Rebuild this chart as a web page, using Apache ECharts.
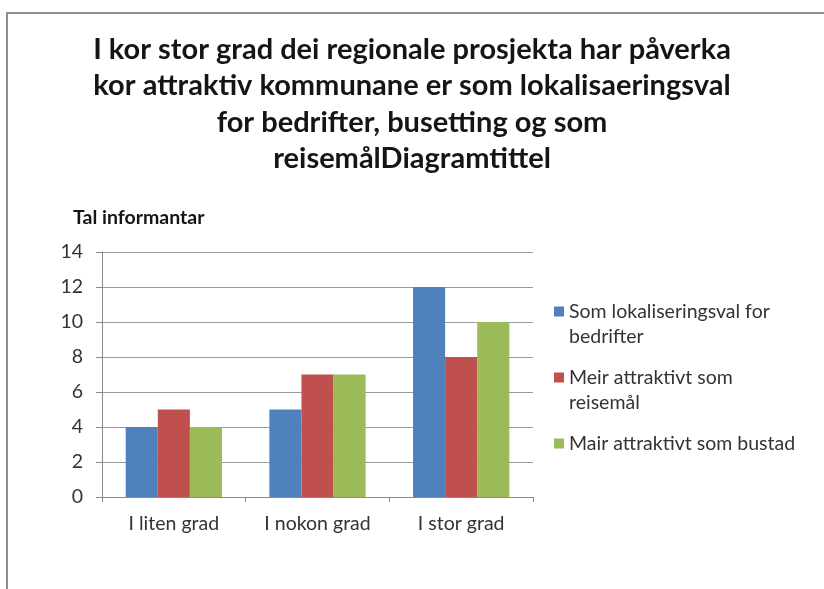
<!DOCTYPE html>
<html>
<head>
<meta charset="utf-8">
<script src="https://cdn.jsdelivr.net/npm/echarts@6/dist/echarts.min.js"></script>
<style>
html,body{margin:0;padding:0;background:#fff;}
#wrap{position:relative;width:824px;height:589px;overflow:hidden;}
#frame{position:absolute;left:6px;top:12px;width:830px;height:600px;border-top:2px solid #8e8e8e;border-left:2px solid #8e8e8e;box-sizing:border-box;}
#chart{position:absolute;left:0;top:0;width:824px;height:589px;}
</style>
</head>
<body>
<div id="wrap"><div id="frame"></div><div id="chart"></div></div>
<script>
const titleText = 'I kor stor grad dei regionale prosjekta har påverka\nkor attraktiv kommunane er som lokalisaeringsval\nfor bedrifter, busetting og som\nreisemålDiagramtittel';
const yAxisName = 'Tal informantar';
const categories = ['I liten grad', 'I nokon grad', 'I stor grad'];
const seriesNames = ['Som lokaliseringsval for bedrifter', 'Meir attraktivt som reisemål', 'Mair attraktivt som bustad'];
const legendLabels = ['Som lokaliseringsval for\nbedrifter', 'Meir attraktivt som\nreisemål', 'Mair attraktivt som bustad\n '];
const seriesColors = ['#4F81BD', '#C0504D', '#9BBB59'];
const lokalisering = [4, 5, 12];
const reisemal = [5, 7, 8];
const bustad = [4, 7, 10];
const seriesValues = [lokalisering, reisemal, bustad];
const yTicks = {min: 0, max: 14, interval: 2};

const font = 'Lato, "Open Sans", sans-serif';
// legend icon: 10x10 square aligned with the first text line (box 10 x 35)
const legendIcon = 'path://M0,0H10V10H0Z M0,35L0.3,35';
const chart = echarts.init(document.getElementById('chart'), null, {renderer: 'canvas'});
chart.setOption({
  animation: false,
  backgroundColor: 'transparent',
  title: {
    text: titleText,
    left: 'center',
    top: 26,
    textStyle: {fontFamily: font, fontWeight: 'bold', fontSize: 29, lineHeight: 36.5, color: '#151515'}
  },
  grid: {left: 102, right: 291, top: 252, bottom: 92, containLabel: false},
  legend: {
    orient: 'vertical',
    left: 554,
    top: 299,
    padding: 0,
    itemWidth: 10,
    itemHeight: 35,
    itemGap: 16,
    icon: legendIcon,
    data: seriesNames,
    formatter: function (name) { return legendLabels[seriesNames.indexOf(name)]; },
    textStyle: {fontFamily: font, fontSize: 19.5, color: '#333', lineHeight: 25}
  },
  xAxis: {
    type: 'category',
    data: categories,
    axisLine: {lineStyle: {color: '#8a8a8a', width: 1}},
    axisTick: {show: true, length: 5, lineStyle: {color: '#8a8a8a'}},
    axisLabel: {fontFamily: font, fontSize: 19.5, color: '#333', margin: 17}
  },
  yAxis: {
    type: 'value',
    min: yTicks.min, max: yTicks.max, interval: yTicks.interval,
    name: yAxisName,
    nameLocation: 'end',
    nameGap: 24,
    nameTextStyle: {fontFamily: font, fontWeight: 'bold', fontSize: 19.5, color: '#151515', align: 'left', padding: [0, 0, 0, -29]},
    axisLine: {show: true, lineStyle: {color: '#8a8a8a', width: 1}},
    axisTick: {show: true, length: 6, lineStyle: {color: '#8a8a8a'}},
    axisLabel: {fontFamily: font, fontSize: 19.5, color: '#333', margin: 19},
    splitLine: {lineStyle: {color: '#9a9a9a', width: 1}}
  },
  series: seriesNames.map((name, i) => ({
    name: name,
    type: 'bar',
    data: seriesValues[i],
    itemStyle: {color: seriesColors[i]},
    barGap: '0%',
    barCategoryGap: '33%'
  }))
});
</script>
</body>
</html>
